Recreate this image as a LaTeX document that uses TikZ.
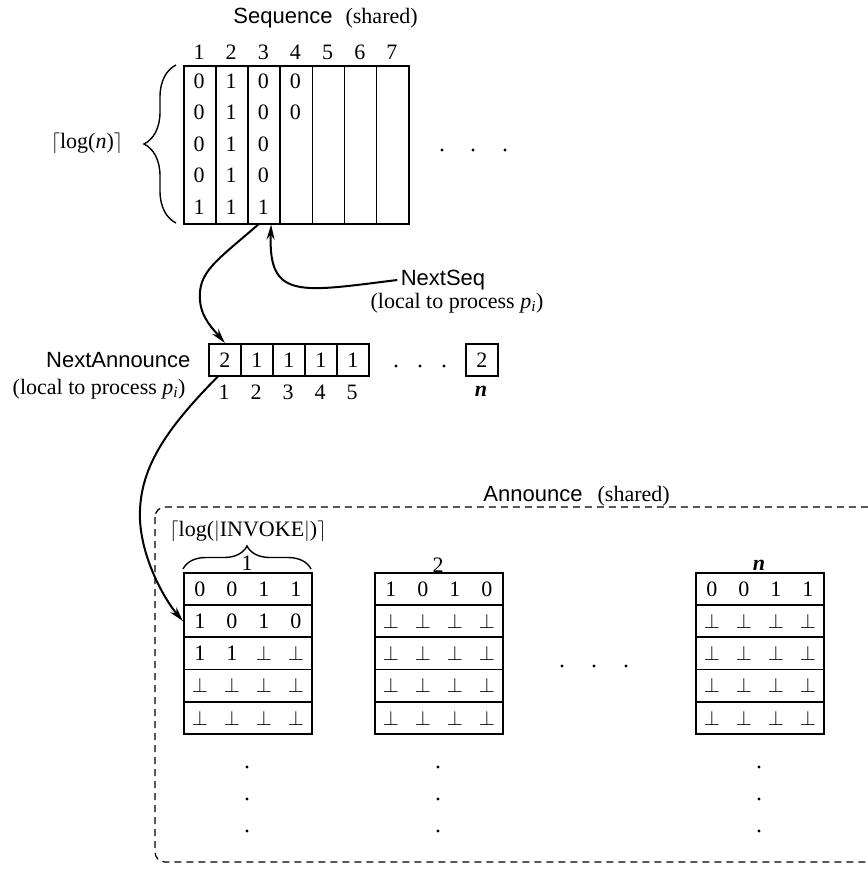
\documentclass[tikz,border=0pt]{standalone}
\usepackage{amsmath, amssymb}
\usepackage{fontspec}
\setmainfont{Liberation Serif}
\setsansfont{Liberation Sans}
\usepackage{tikz}
\usetikzlibrary{arrows.meta, positioning, decorations.pathreplacing, calc}

\newcommand{\nobit}{$\bot$}
\newcommand{\annbits}[4]{\makebox[32pt]{#1}\makebox[32pt]{#2}\makebox[32pt]{#3}\makebox[32pt]{#4}}

\tikzset{
  every node/.style={font=\fontsize{22}{26}\selectfont},
  lbl/.style={font=\fontsize{22}{26}\selectfont\sffamily},
  seqcol/.style={draw, line width=1.6pt, minimum width=32.14pt, minimum height=158pt, inner sep=0pt, anchor=north west},
  slot/.style={draw, line width=1.6pt, minimum width=32pt, minimum height=32pt, inner sep=0pt, anchor=north west},
  annrow/.style={draw, line width=1.8pt, minimum width=128pt, minimum height=32.2pt, inner sep=0pt, anchor=north west},
  ptr/.style={-{Stealth[length=15pt, width=8pt]}, line width=2pt},
  curly/.style={decorate, decoration={brace, amplitude=#1}, line width=1.4pt},
}

\begin{document}
\begin{tikzpicture}[x=1pt, y=-1pt]
\useasboundingbox (0,0) rectangle (867,872);

% Sequence (shared)
\node[lbl] (seqlbl) at (283,18) {Sequence};
\node[base right=6pt of seqlbl] {(shared)};
\foreach \k in {1,...,7} {
  \node[seqcol] (s\k) at ({183+32.14*(\k-1)},65) {};
  \node at ({199.07+32.14*(\k-1)},52) {\k};
}
\foreach \col/\vals in {1/{0,0,0,0,1}, 2/{1,1,1,1,1}, 3/{0,0,0,0,1}, 4/{0,0}}
  \foreach \v [count=\r] in \vals
    \node at ({199.07+32.14*(\col-1)},{65+31.6*(\r-0.5)}) {\v};
\draw[curly=32pt] (176,223) -- (176,65);
\node (logn) at (87,143) {$\lceil$log(\textit{n})$\rceil$};
\foreach \x in {442,473,505} \fill (\x,150) circle (1.7pt);

% NextSeq
\node[lbl] (nextseq) at (443,280) {NextSeq};
\node at (457,303) {(local to process \textit{p}\textsubscript{\textit{i}})};
\draw[ptr] (nextseq.west) .. controls (300,292) and (268,300) .. ([xshift=7pt]s3.south);

% NextAnnounce
\node[lbl, anchor=east] (nextann) at (194,360) {NextAnnounce};
\node[anchor=east] at (189,389) {(local to process \textit{p}\textsubscript{\textit{i}})};
\foreach \k/\v in {1/2, 2/1, 3/1, 4/1, 5/1} {
  \node[slot] (na\k) at ({208+32*(\k-1)},343) {\v};
  \node at ({224+32*(\k-1)},392) {\k};
}
\foreach \x in {396,420,444} \fill (\x,366) circle (1.7pt);
\node[slot] (nan) at (465,343) {2};
\node at (481,391) {\textbf{\textit{n}}};
\draw[ptr] ([xshift=-6pt]s3.south) .. controls (215,262) and (198,272) .. (200,300)
  .. controls (201,318) and (214,330) .. (na1.north);

% Announce (shared)
\draw[dash pattern=on 7pt off 5pt, line width=1.2pt, rounded corners=10pt] (155,507) rectangle (900,862);
\node[lbl] (annlbl) at (533,494) {Announce};
\node[base right=8pt of annlbl] {(shared)};

\node[annrow] (a1r1) at (183,572) {\annbits0011};
\node[annrow] (a1r2) at (183,604.2) {\annbits1010};
\node[annrow] (a1r3) at (183,636.4) {\annbits11\nobit\nobit};
\foreach \r in {4,5}
  \node[annrow] (a1r\r) at (183,{572+32.2*(\r-1)}) {\annbits\nobit\nobit\nobit\nobit};
\node[annrow] (a2r1) at (374,572) {\annbits1010};
\node[annrow] (anr1) at (695,572) {\annbits0011};
\foreach \b/\x in {2/374, n/695}
  \foreach \r in {2,...,5}
    \node[annrow] (a\b r\r) at (\x,{572+32.2*(\r-1)}) {\annbits\nobit\nobit\nobit\nobit};

\draw[curly=23pt] (183,569) -- (311,569);
\node (invoke) at (248,531) {$\lceil$log($|$INVOKE$|$)$\rceil$};
\node at (247,563) {1};
\node at (438,565) {2};
\node at (759,565) {\textbf{\textit{n}}};
\foreach \x in {247,438,759}
  \foreach \y in {767,799,831}
    \fill (\x,\y) circle (1.7pt);
\foreach \x in {562,594,626} \fill (\x,666) circle (1.7pt);

\draw[ptr] ([xshift=-7pt]na1.south) .. controls (165,430) and (138,470) .. (140,520)
  .. controls (142,560) and (165,600) .. (a1r2.west);
\end{tikzpicture}
\end{document}
